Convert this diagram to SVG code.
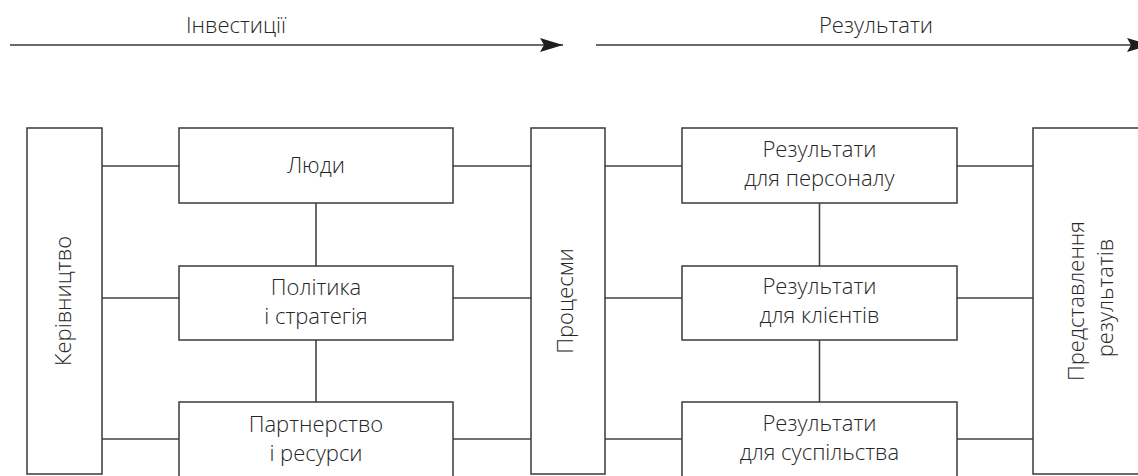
<svg xmlns="http://www.w3.org/2000/svg" width="1138" height="476" viewBox="0 0 1138 476">
<style>
.box{fill:#fff;stroke:#3a3a3a;stroke-width:1.5}
.ln{stroke:#444;stroke-width:1.6;fill:none}
.ar{stroke:#6a6a6a;stroke-width:2.2;fill:none}
text{font-family:"Open Sans","Liberation Sans",sans-serif;font-weight:300;font-size:22px;fill:#262626;text-anchor:middle}
</style>
<defs>
<marker id="ah" markerUnits="userSpaceOnUse" markerWidth="26" markerHeight="16" refX="23" refY="7" orient="auto" viewBox="0 0 26 16">
<path d="M0,0 L23,7 L0,14 L4,7 Z" fill="#1e1e1e"/>
</marker>
</defs>
<g id="arrows">
<line class="ar" x1="10" y1="45" x2="563" y2="45" marker-end="url(#ah)"/>
<line class="ar" x1="596" y1="45" x2="1150" y2="45" marker-end="url(#ah)"/>
<text x="236" y="33">Інвестиції</text>
<text x="876" y="33">Результати</text>
</g>
<g id="connectors">
<path class="ln" d="M102,166H179M102,298H179M102,439H179"/>
<path class="ln" d="M453,166H531M453,298H531M453,439H531"/>
<path class="ln" d="M605,166H682M605,298H682M605,439H682"/>
<path class="ln" d="M957,166H1033M957,298H1033M957,439H1033"/>
<path class="ln" d="M316,203V266M316,340V402"/>
<path class="ln" d="M819.5,203V266M819.5,340V402"/>
</g>
<g id="kerivnytstvo">
<rect class="box" x="27" y="128" width="75" height="346"/>
<text transform="translate(71,301) rotate(-90)">Керівництво</text>
</g>
<g id="lyudy">
<rect class="box" x="179" y="128" width="274" height="75"/>
<text x="316" y="173">Люди</text>
</g>
<g id="polityka">
<rect class="box" x="179" y="266" width="274" height="74"/>
<text x="316" y="295">Політика</text>
<text x="316" y="324">і стратегія</text>
</g>
<g id="partnerstvo">
<rect class="box" x="179" y="402" width="274" height="80"/>
<text x="316" y="432">Партнерство</text>
<text x="316" y="461">і ресурси</text>
</g>
<g id="protsesy">
<rect class="box" x="531" y="128" width="74" height="346"/>
<text transform="translate(573,301) rotate(-90)">Процесми</text>
</g>
<g id="res-personal">
<rect class="box" x="682" y="128" width="275" height="75"/>
<text x="819.5" y="157">Результати</text>
<text x="819.5" y="186">для персоналу</text>
</g>
<g id="res-klienty">
<rect class="box" x="682" y="266" width="275" height="74"/>
<text x="819.5" y="294">Результати</text>
<text x="819.5" y="323">для клієнтів</text>
</g>
<g id="res-suspilstvo">
<rect class="box" x="682" y="402" width="275" height="80"/>
<text x="819.5" y="431">Результати</text>
<text x="819.5" y="460">для суспільства</text>
</g>
<g id="predstavlennya">
<rect class="box" x="1033" y="128" width="120" height="346"/>
<text transform="translate(1084,301) rotate(-90)">Представлення</text>
<text transform="translate(1113,298) rotate(-90)">результатів</text>
</g>
</svg>
